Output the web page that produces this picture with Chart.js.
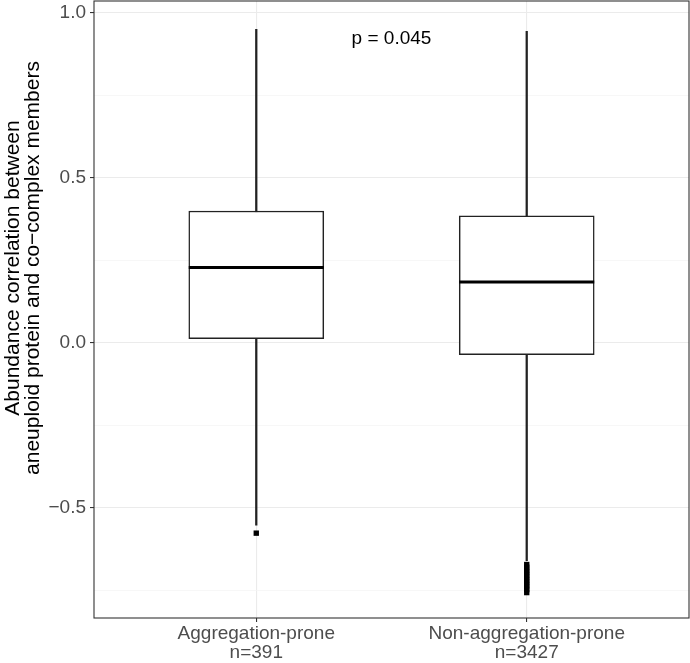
<!DOCTYPE html>
<html>
<head>
<meta charset="utf-8">
<script src="https://cdn.jsdelivr.net/npm/chart.js@4/dist/chart.umd.min.js"></script>
<style>
  html, body { margin: 0; padding: 0; background: #fff; }
  #wrap { width: 690px; height: 663px; }
</style>
</head>
<body>
<div id="wrap"><canvas id="grafico" width="690" height="663"></canvas></div>
<script>
// categories and summary stats
const grupos = ["Aggregation-prone", "Non-aggregation-prone"];
const nums = [391, 3427];
const q1 = [0.012, -0.036];
const mediana = [0.228, 0.184];
const q3 = [0.399, 0.384];
const bigoteBajo = [-0.553, -0.66];
const bigoteAlto = [0.949, 0.943];
const atipicosAgg = [-0.577];
const atipicosNon = [-0.672, -0.68, -0.688, -0.695, -0.703, -0.71, -0.718, -0.725, -0.733, -0.74, -0.748, -0.757];
const yTicks = [-0.75, -0.5, -0.25, 0, 0.25, 0.5, 0.75, 1.0];
const yMayores = [-0.5, 0, 0.5, 1.0];
const tituloY = ["Abundance correlation between", "aneuploid protein and co\u2212complex members"];
const pTexto = "p = 0.045";

const xPos = grupos.map((g, i) => i + 1);
const esMayor = (v) => yMayores.some((m) => Math.abs(m - v) < 1e-9);
const fmt = (v) => (v < 0 ? "\u2212" : "") + Math.abs(v).toFixed(1);
const fuente = "'Liberation Sans', Arial, sans-serif";

const extras = {
  id: "extras",
  afterDatasetsDraw(chart) {
    const { ctx, chartArea: a, scales } = chart;
    ctx.save();
    // p value label
    ctx.fillStyle = "#000";
    ctx.font = "19px " + fuente;
    ctx.textAlign = "center";
    ctx.textBaseline = "middle";
    ctx.fillText(pTexto, scales.x.getPixelForValue(1.5), scales.y.getPixelForValue(0.92));
    // panel border
    ctx.strokeStyle = "#333333";
    ctx.lineWidth = 1.1;
    ctx.strokeRect(a.left, a.top, a.right - a.left, a.bottom - a.top);
    ctx.restore();

    // y axis title, two lines
    ctx.save();
    ctx.translate(13, 268);
    ctx.rotate(-Math.PI / 2);
    ctx.fillStyle = "#000";
    ctx.font = "21px " + fuente;
    ctx.textAlign = "center";
    ctx.textBaseline = "middle";
    tituloY.forEach((t, i) => ctx.fillText(t, 0, i * 20.5));
    ctx.restore();
  },
};

let cajas = {
  type: "bar",
  label: "caja",
  data: xPos.map((x, i) => ({ x: x, y: [q1[i], q3[i]] })),
  backgroundColor: "#FFFFFF",
  borderColor: "#222222",
  borderWidth: 1.5,
  borderSkipped: false,
  barThickness: 135,
  grouped: false,
  order: 2,
};
let bigotes = {
  type: "bar",
  label: "bigote",
  data: xPos.map((x, i) => ({ x: x, y: [bigoteBajo[i], bigoteAlto[i]] })),
  backgroundColor: "#222222",
  borderWidth: 0,
  barThickness: 1.6,
  grouped: false,
  order: 3,
};
let medianas = {
  type: "scatter",
  label: "mediana",
  data: xPos.map((x, i) => ({ x: x, y: mediana[i] })),
  pointStyle: "line",
  pointRadius: 67.5,
  borderColor: "#000000",
  borderWidth: 3,
  order: 1,
};
let atipicos = {
  type: "scatter",
  label: "atipicos",
  data: atipicosAgg.map((v) => ({ x: 1, y: v })).concat(atipicosNon.map((v) => ({ x: 2, y: v }))),
  pointStyle: "rect",
  pointRadius: 3.8,
  backgroundColor: "#000000",
  borderWidth: 0,
  order: 0,
};

new Chart(document.getElementById("grafico"), {
  type: "bar",
  data: { datasets: [bigotes, cajas, medianas, atipicos] },
  plugins: [extras],
  options: {
    responsive: false,
    animation: false,
    events: [],
    layout: { autoPadding: false, padding: { top: 1, right: 1, left: 0, bottom: 0 } },
    plugins: { legend: { display: false }, tooltip: { enabled: false } },
    scales: {
      x: {
        type: "linear",
        offset: false,
        min: 0.4,
        max: 2.6,
        afterBuildTicks: (s) => { s.ticks = xPos.map((v) => ({ value: v })); },
        afterFit: (s) => { s.height = 45; s.paddingLeft = 0; s.paddingRight = 0; },
        border: { display: false },
        grid: { offset: false, color: "#EBEBEB", lineWidth: 1.1, tickLength: 4, tickColor: "#333333" },
        ticks: {
          padding: 2,
          color: "#4D4D4D",
          font: { family: fuente, size: 19, lineHeight: 1.0 },
          callback: (v) => { const i = Math.round(v) - 1; return [grupos[i], "n=" + nums[i]]; },
        },
      },
      y: {
        min: -0.834,
        max: 1.035,
        afterBuildTicks: (s) => { s.ticks = yTicks.map((v) => ({ value: v })); },
        afterFit: (s) => { s.width = 94; s.paddingTop = 0; s.paddingBottom = 0; },
        border: { display: false },
        grid: {
          color: (c) => (esMayor(c.tick.value) ? "#EBEBEB" : "#F4F4F4"),
          lineWidth: (c) => (esMayor(c.tick.value) ? 1.1 : 0.7),
          tickLength: 4,
          tickColor: (c) => (esMayor(c.tick.value) ? "#333333" : "rgba(0,0,0,0)"),
        },
        ticks: {
          padding: 4,
          color: "#4D4D4D",
          font: { family: fuente, size: 19 },
          callback: (v) => (esMayor(v) ? fmt(v) : ""),
        },
      },
    },
  },
});
</script>
</body>
</html>
